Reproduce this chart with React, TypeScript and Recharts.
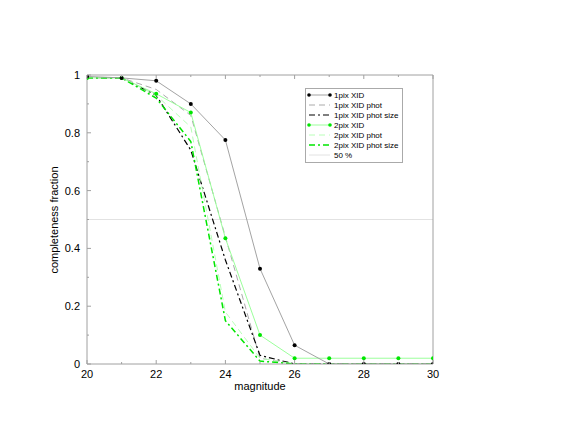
import React from "react";
import { LineChart, Line, XAxis, YAxis, ReferenceLine } from "recharts";

const magnitudes = [20, 21, 22, 23, 24, 25, 26, 27, 28, 29, 30];
const pix1Xid = [0.995, 0.99, 0.98, 0.9, 0.775, 0.33, 0.065, 0, 0, 0, 0];
const pix1Phot = [0.99, 0.99, 0.95, 0.86, 0.44, 0.02, 0, 0, 0, 0, 0];
const pix1PhotSize = [0.99, 0.99, 0.93, 0.74, 0.36, 0.03, 0, 0, 0, 0, 0];
const pix2Xid = [0.99, 0.99, 0.935, 0.87, 0.435, 0.1, 0.02, 0.02, 0.02, 0.02, 0.02];
const pix2Phot = [0.99, 0.99, 0.93, 0.82, 0.18, 0.02, 0, 0, 0, 0, 0];
const pix2PhotSize = [0.99, 0.99, 0.92, 0.77, 0.15, 0.01, 0, 0, 0, 0, 0];
const xTicks = [20, 21, 22, 23, 24, 25, 26, 27, 28, 29, 30];
const yTicks = [0, 0.1, 0.2, 0.3, 0.4, 0.5, 0.6, 0.7, 0.8, 0.9, 1];
const legendLabels = [
  "1pix XID",
  "1pix XID phot",
  "1pix XID phot size",
  "2pix XID",
  "2pix XID phot",
  "2pix XID phot size",
  "50 %",
];

const data = magnitudes.map((m, i) => ({
  m,
  a: pix1Xid[i],
  b: pix1Phot[i],
  c: pix1PhotSize[i],
  d: pix2Xid[i],
  e: pix2Phot[i],
  f: pix2PhotSize[i],
}));

const FONT = "'Liberation Sans', Arial, sans-serif";
const AXIS = "#a0a0a0";

const BottomTick = (p: any) => {
  const v = p.payload.value;
  const major = v % 2 === 0;
  return (
    <g>
      <line x1={p.x} x2={p.x} y1={p.y} y2={p.y - (major ? 4 : 2)} stroke={AXIS} />
      {major && (
        <text x={p.x} y={p.y + 14} textAnchor="middle" fontSize={11} fontFamily={FONT} fill="#000">
          {v}
        </text>
      )}
    </g>
  );
};
const TopTick = (p: any) => {
  const v = p.payload.value;
  const major = v % 2 === 0;
  return <line x1={p.x} x2={p.x} y1={p.y} y2={p.y + (major ? 4 : 2)} stroke={AXIS} />;
};
const LeftTick = (p: any) => {
  const v = p.payload.value;
  const major = Math.round(v * 10) % 2 === 0;
  return (
    <g>
      <line x1={p.x} x2={p.x + (major ? 4 : 2)} y1={p.y} y2={p.y} stroke={AXIS} />
      {major && (
        <text x={p.x - 7} y={p.y + 4} textAnchor="end" fontSize={11} fontFamily={FONT} fill="#000">
          {Number(v.toFixed(1)).toString()}
        </text>
      )}
    </g>
  );
};
const RightTick = (p: any) => {
  const v = p.payload.value;
  const major = Math.round(v * 10) % 2 === 0;
  return <line x1={p.x} x2={p.x - (major ? 4 : 2)} y1={p.y} y2={p.y} stroke={AXIS} />;
};

const blackDot = (p: any) => <circle key={p.index} cx={p.cx} cy={p.cy} r={2} fill="#000" />;
const greenDot = (p: any) => <circle key={p.index} cx={p.cx} cy={p.cy} r={2} fill="#00e600" />;

const legendStyles = [
  { stroke: "#999", dash: undefined, dot: "#000", w: 0.9 },
  { stroke: "#aaa", dash: "6 4", dot: null, w: 1 },
  { stroke: "#000", dash: "6 3 2 3", dot: null, w: 1.2 },
  { stroke: "#90ff90", dash: undefined, dot: "#00e600", w: 0.9 },
  { stroke: "#b8ffb8", dash: "6 4", dot: null, w: 1 },
  { stroke: "#00e600", dash: "6 3 2 3", dot: null, w: 1.5 },
  { stroke: "#e2e2e2", dash: undefined, dot: null, w: 1 },
];

export default function App() {
  return (
    <div style={{ position: "absolute", left: 0, top: 0, width: 568, height: 439, background: "#fff" }}>
      <LineChart
        width={568}
        height={439}
        data={data}
        margin={{ top: 74, right: 134, bottom: 45, left: 47 }}
      >
        <XAxis
          dataKey="m"
          type="number"
          domain={[20, 30]}
          ticks={xTicks}
          interval={0}
          tickSize={0}
          tickMargin={0}
          height={30}
          stroke={AXIS}
          tick={BottomTick}
          allowDataOverflow
        />
        <XAxis
          xAxisId="top"
          orientation="top"
          dataKey="m"
          type="number"
          domain={[20, 30]}
          ticks={xTicks}
          interval={0}
          tickSize={0}
          tickMargin={0}
          height={1}
          stroke={AXIS}
          tick={TopTick}
        />
        <YAxis
          type="number"
          domain={[0, 1]}
          ticks={yTicks}
          interval={0}
          tickSize={0}
          tickMargin={0}
          width={40}
          stroke={AXIS}
          tick={LeftTick}
          allowDataOverflow
        />
        <YAxis
          yAxisId="right"
          orientation="right"
          type="number"
          domain={[0, 1]}
          ticks={yTicks}
          interval={0}
          tickSize={0}
          tickMargin={0}
          width={1}
          stroke={AXIS}
          tick={RightTick}
        />
        <ReferenceLine y={0.5} stroke="#e2e2e2" strokeWidth={1} />
        <Line dataKey="b" stroke="#aaa" strokeWidth={1} strokeDasharray="6 4" dot={false} isAnimationActive={false} />
        <Line dataKey="c" stroke="#000" strokeWidth={1.2} strokeDasharray="6 3 2 3" dot={false} isAnimationActive={false} />
        <Line dataKey="e" stroke="#b8ffb8" strokeWidth={1} strokeDasharray="6 4" dot={false} isAnimationActive={false} />
        <Line dataKey="f" stroke="#00e600" strokeWidth={1.5} strokeDasharray="6 3 2 3" dot={false} isAnimationActive={false} />
        <Line dataKey="d" stroke="#90ff90" strokeWidth={0.9} dot={greenDot} isAnimationActive={false} />
        <Line dataKey="a" stroke="#999" strokeWidth={0.9} dot={blackDot} isAnimationActive={false} />
      </LineChart>
      <svg style={{ position: "absolute", left: 0, top: 0 }} width={568} height={439}>
        <text
          transform="translate(58,220) rotate(-90)"
          textAnchor="middle"
          fontSize={11}
          fontFamily={FONT}
          fill="#000"
        >
          completeness fraction
        </text>
        <text x={260} y={390} textAnchor="middle" fontSize={11} fontFamily={FONT} fill="#000">
          magnitude
        </text>
        <rect x={305.5} y={88.5} width={97} height={74} fill="#fff" stroke="#aaa" />
        {legendLabels.map((lab, i) => {
          const s = legendStyles[i];
          const y = 95 + i * 10;
          return (
            <g key={lab}>
              <line x1={309} x2={330} y1={y} y2={y} stroke={s.stroke} strokeWidth={s.w} strokeDasharray={s.dash} />
              {s.dot && <circle cx={309} cy={y} r={1.8} fill={s.dot} />}
              {s.dot && <circle cx={330} cy={y} r={1.8} fill={s.dot} />}
              <text x={334} y={y + 3} fontSize={8} fontFamily={FONT} fill="#000">
                {lab}
              </text>
            </g>
          );
        })}
      </svg>
    </div>
  );
}
